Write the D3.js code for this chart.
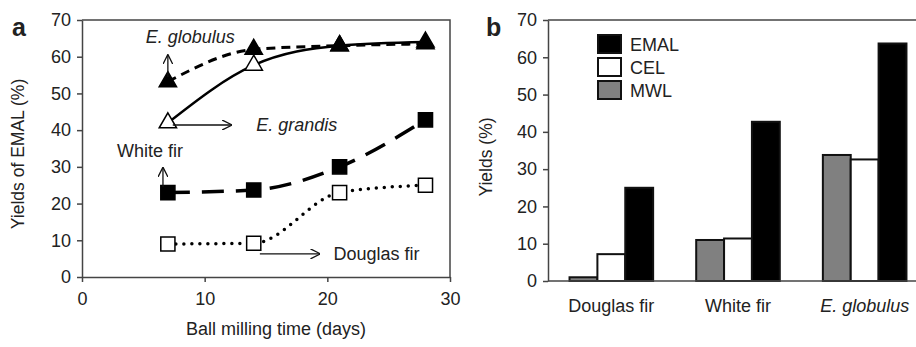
<!doctype html>
<html lang="en">
<head>
<meta charset="utf-8" />
<style>
  body { margin: 0; background: #fff; }
  svg text { font-family: "Liberation Sans", Arial, sans-serif; fill: #222; }
  .axis path, .axis line { stroke: #444; stroke-width: 1.5px; }
  .axis text { font-size: 18px; fill: #222; font-family: "Liberation Sans", Arial, sans-serif; }
  .frame { stroke: #444; stroke-width: 1.5px; fill: none; }
  .note { font-size: 18px; }
  .arrow { stroke: #111; stroke-width: 1.3px; fill: none; }
</style>
</head>
<body>
<div id="chart"></div>
<script src="https://cdn.jsdelivr.net/npm/d3@7"></script>
<script>
// panel a: EMAL yields vs ball milling time
var days = [7, 14, 21, 28];
var eGlobulus = [53.2, 62, 63, 63.5];
var eGrandis = [42, 57.7, 63, 64];
var whiteFir = [23, 23.7, 30, 42.8];
var douglasFir = [9, 9.2, 23, 25];
var yTicks = [0, 10, 20, 30, 40, 50, 60, 70];
var xTicks = [0, 10, 20, 30];

// panel b: yields by lignin prep
var species = ["Douglas fir", "White fir", "E. globulus"];
var preps = ["MWL", "CEL", "EMAL"];
var mwl = [1, 11, 33.8];
var cel = [7.2, 11.4, 32.6];
var emal = [25, 42.7, 63.7];
var legendOrder = ["EMAL", "CEL", "MWL"];

var width = 916, height = 347;
var svg = d3.select("#chart").append("svg")
  .attr("width", width).attr("height", height);

svg.append("defs").append("marker")
  .attr("id", "head")
  .attr("viewBox", "0 0 10 10")
  .attr("refX", 9.5).attr("refY", 5)
  .attr("markerWidth", 10).attr("markerHeight", 10)
  .attr("markerUnits", "userSpaceOnUse")
  .attr("orient", "auto")
  .append("path")
  .attr("d", "M0,0 L10,5 L0,10")
  .attr("fill", "none").attr("stroke", "#111").attr("stroke-width", 1.3);

// ---------- panel a ----------
var x = d3.scaleLinear().domain([0, 30]).range([82, 450]);
var y = d3.scaleLinear().domain([0, 70]).range([277, 20]);

var a = svg.append("g");

a.append("g").attr("class", "axis")
  .attr("transform", "translate(0," + y(0) + ")")
  .call(d3.axisBottom(x).tickValues(xTicks).tickSize(5).tickSizeOuter(0).tickPadding(10));
a.append("g").attr("class", "axis")
  .attr("transform", "translate(" + x(0) + ",0)")
  .call(d3.axisLeft(y).tickValues(yTicks).tickSize(5).tickSizeOuter(0).tickPadding(6));
a.append("path").attr("class", "frame")
  .attr("d", "M" + x(0) + "," + y(70) + "H" + x(30) + "V" + y(0));

a.append("text").attr("x", 12).attr("y", 36)
  .style("font-size", "25px").style("font-weight", "bold").text("a");
a.append("text").attr("x", 276).attr("y", 335).attr("text-anchor", "middle")
  .style("font-size", "18px").text("Ball milling time (days)");
a.append("text").attr("transform", "translate(24,154) rotate(-90)")
  .attr("text-anchor", "middle").style("font-size", "17.5px").text("Yields of EMAL (%)");

var series = [
  { name: "E. grandis", vals: eGrandis, dash: null, w: 2.5, sym: d3.symbolTriangle, fill: "#fff" },
  { name: "E. globulus", vals: eGlobulus, dash: "9,6", w: 3, sym: d3.symbolTriangle, fill: "#000" },
  { name: "White fir", vals: whiteFir, dash: "22,12", w: 3.5, sym: d3.symbolSquare, fill: "#000" },
  { name: "Douglas fir", vals: douglasFir, dash: "0,8", w: 3.5, sym: d3.symbolSquare, fill: "#fff" }
];

var line = d3.line()
  .x(function(d) { return x(d[0]); })
  .y(function(d) { return y(d[1]); })
  .curve(d3.curveMonotoneX);

series.forEach(function(s) {
  var pts = days.map(function(d, i) { return [d, s.vals[i]]; });
  a.append("path")
    .attr("d", line(pts))
    .attr("fill", "none")
    .attr("stroke", "#000")
    .attr("stroke-width", s.w)
    .attr("stroke-dasharray", s.dash)
    .attr("stroke-linecap", s.dash === "0,8" ? "round" : "butt");
});
series.forEach(function(s) {
  var sym = d3.symbol().type(s.sym).size(s.sym === d3.symbolSquare ? 200 : 130);
  a.selectAll(null)
    .data(days.map(function(d, i) { return [d, s.vals[i]]; }))
    .enter().append("path")
    .attr("transform", function(d) { return "translate(" + x(d[0]) + "," + y(d[1]) + ")"; })
    .attr("d", sym)
    .attr("fill", s.fill)
    .attr("stroke", "#000")
    .attr("stroke-width", 1.5);
});

// labels with arrows, in data units
var arrows = [
  [7, 54.5, 7, 60.5],
  [7.4, 41.4, 12.2, 41.4],
  [6.6, 24.5, 6.6, 29.8],
  [14.5, 6.3, 19.4, 6.3]
];
var notes = [
  { t: "E. globulus", x: 5.2, y: 63.6, it: true },
  { t: "E. grandis", x: 14.2, y: 39.9, it: true },
  { t: "White fir", x: 2.85, y: 32.6, it: false },
  { t: "Douglas fir", x: 20.5, y: 4.5, it: false }
];
a.selectAll(null).data(arrows).enter().append("line")
  .attr("class", "arrow")
  .attr("x1", function(d) { return x(d[0]); })
  .attr("y1", function(d) { return y(d[1]); })
  .attr("x2", function(d) { return x(d[2]); })
  .attr("y2", function(d) { return y(d[3]); })
  .attr("marker-end", "url(#head)");
a.selectAll(null).data(notes).enter().append("text")
  .attr("class", "note")
  .attr("x", function(d) { return x(d.x); })
  .attr("y", function(d) { return y(d.y); })
  .style("font-style", function(d) { return d.it ? "italic" : "normal"; })
  .text(function(d) { return d.t; });

// ---------- panel b ----------
var xb = d3.scaleBand().domain(species).range([548, 928]).paddingInner(0.34).paddingOuter(0.17);
var xp = d3.scaleBand().domain(preps).range([0, xb.bandwidth()]);
var yb = d3.scaleLinear().domain([0, 70]).range([281, 20]);
var color = d3.scaleOrdinal().domain(preps).range(["#808080", "#fff", "#000"]);
var table = { MWL: mwl, CEL: cel, EMAL: emal };

var b = svg.append("g");

b.selectAll("g.grp")
  .data(species)
  .enter().append("g").attr("class", "grp")
  .attr("transform", function(d) { return "translate(" + xb(d) + ",0)"; })
  .selectAll("rect")
  .data(function(d, i) { return preps.map(function(p) { return { p: p, v: table[p][i] }; }); })
  .enter().append("rect")
  .attr("x", function(d) { return xp(d.p); })
  .attr("width", xp.bandwidth())
  .attr("y", function(d) { return yb(d.v); })
  .attr("height", function(d) { return yb(0) - yb(d.v); })
  .attr("fill", function(d) { return color(d.p); })
  .attr("stroke", "#111")
  .attr("stroke-width", 2);

b.append("g").attr("class", "axis")
  .attr("transform", "translate(548,0)")
  .call(d3.axisLeft(yb).tickValues(yTicks).tickSize(5).tickSizeOuter(0).tickPadding(6));
b.append("path").attr("class", "frame")
  .attr("d", "M548," + yb(0) + "H" + width);
b.append("path").attr("class", "frame")
  .attr("d", "M548," + yb(70) + "H" + width);

b.selectAll("text.cat")
  .data(species)
  .enter().append("text").attr("class", "cat")
  .attr("x", function(d) { return xb(d) + xb.bandwidth() / 2; })
  .attr("y", 312)
  .attr("text-anchor", "middle")
  .style("font-size", "18px")
  .style("font-style", function(d) { return d === "E. globulus" ? "italic" : "normal"; })
  .text(function(d) { return d; });

b.append("text").attr("x", 486).attr("y", 36)
  .style("font-size", "25px").style("font-weight", "bold").text("b");
b.append("text").attr("transform", "translate(492,157) rotate(-90)")
  .attr("text-anchor", "middle").style("font-size", "17.5px").text("Yields (%)");

var leg = b.selectAll("g.leg")
  .data(legendOrder)
  .enter().append("g").attr("class", "leg")
  .attr("transform", function(d, i) { return "translate(598," + (35 + i * 23) + ")"; });
leg.append("rect")
  .attr("width", 23).attr("height", 18)
  .attr("fill", function(d) { return color(d); })
  .attr("stroke", "#111").attr("stroke-width", 2);
leg.append("text")
  .attr("x", 32).attr("y", 16)
  .style("font-size", "18px")
  .text(function(d) { return d; });
</script>
</body>
</html>
